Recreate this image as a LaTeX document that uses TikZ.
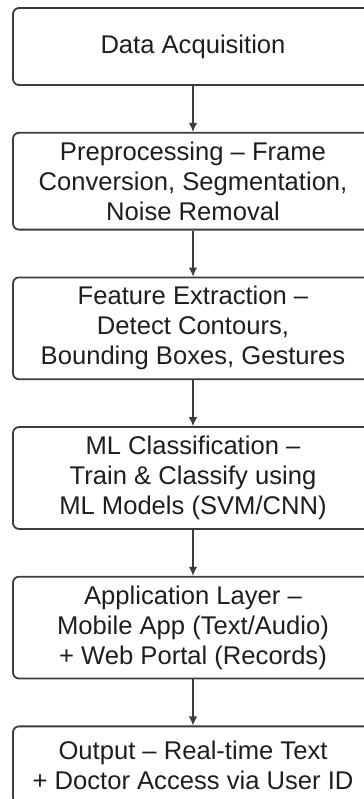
\documentclass[tikz,border=0pt]{standalone}
\usepackage{fontspec}
\setmainfont{Liberation Sans}
\usepackage{tikz}
\usetikzlibrary{arrows.meta}
\usetikzlibrary{positioning}
\definecolor{linegray}{HTML}{3C3C3C}
\definecolor{textgray}{HTML}{1E1E1E}

\begin{document}
\begin{tikzpicture}[x=1pt,y=1pt,->,>={Latex[length=4.5pt,width=4.2pt]},node distance=23pt,
	stage/.style={draw=linegray,line width=0.9pt,rounded corners=3pt,minimum width=180pt,minimum height=38.5pt,inner ysep=4.5pt,align=center,text=textgray,font=\fontsize{12.8}{15}\selectfont}]
			\useasboundingbox (0,0) rectangle (182,-399.5);
			\node[stage] (acq) at (96.5,-23.25) {Data Acquisition};
			\node[stage,below=of acq] (pre) {Preprocessing – Frame\\Conversion, Segmentation,\\Noise Removal};
			\node[stage,below=of pre] (feat) {Feature Extraction –\\Detect Contours,\\Bounding Boxes, Gestures};
			\node[stage,below=of feat] (ml) {ML Classification –\\Train \& Classify using\\ML Models (SVM/CNN)};
			\node[stage,below=of ml] (app) {Application Layer –\\Mobile App (Text/Audio)\\+ Web Portal (Records)};
			\node[stage,below=of app] (out) {Output – Real-time Text\\+ Doctor Access via User ID};
			\draw[linegray,line width=0.6pt]  (acq) -- (pre);
			\draw[linegray,line width=0.6pt]  (pre) -- (feat);
			\draw[linegray,line width=0.6pt]  (feat) -- (ml);
			\draw[linegray,line width=0.6pt]  (ml) -- (app);
			\draw[linegray,line width=0.6pt]  (app) -- (out);
\end{tikzpicture}
\end{document}
